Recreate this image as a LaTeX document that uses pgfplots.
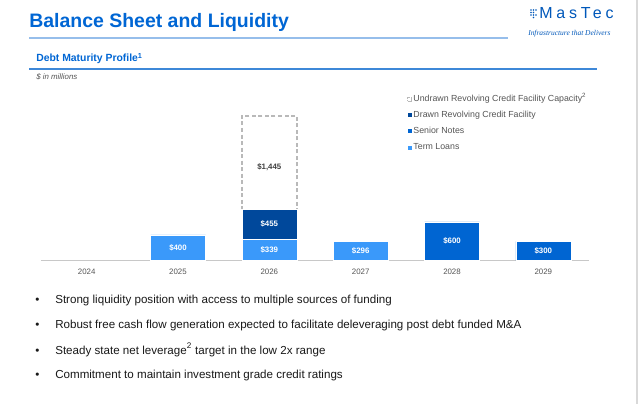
\documentclass[border=0pt]{standalone}
\usepackage{fontspec}
\setmainfont{Liberation Sans}
\newfontfamily\logofont[LetterSpace=24]{Liberation Sans}
\newfontfamily\tagfont{Liberation Serif}
\usepackage{pgfplots}
\pgfplotsset{compat=1.18}
\definecolor{titleblue}{RGB}{0,102,212}
\definecolor{termblue}{RGB}{58,153,250}
\definecolor{seniorblue}{RGB}{0,101,210}
\definecolor{drawnblue}{RGB}{0,72,155}
\definecolor{dashgray}{RGB}{185,185,185}
\definecolor{axisgray}{RGB}{200,200,200}
\definecolor{yeargray}{RGB}{85,85,85}
\definecolor{lightline}{RGB}{150,190,235}
\definecolor{subline}{RGB}{62,136,216}
\definecolor{logoblue}{RGB}{0,88,186}
\definecolor{bodytext}{RGB}{25,25,25}

\pgfplotsset{
  sqlegend/.style={legend image code/.code={\path[##1] (0pt,-1.5pt) rectangle (3pt,1.5pt);}},
  overlay axis/.style={at={(30.75pt,107.475pt)}, anchor=south west,
    scale only axis, width=411pt, height=121.3pt,
    xmin=2023.5, xmax=2029.5, ymin=0, ymax=2500, clip=false}
}
\tikzset{lbl/.style={font=\fontsize{5.9}{7}\selectfont\bfseries, text=white}}

\begin{document}
\begin{tikzpicture}[x=0.75pt,y=0.75pt]
\useasboundingbox (0,0) rectangle (640,404);
\fill[white] (0,0) rectangle (640,404);
\draw[gray!30, line width=1.2pt] (637,0) -- (637,404);

% header
\node[anchor=base west, inner sep=0pt, text=titleblue, font=\fontsize{14.6}{16}\selectfont\bfseries] at (29,376) {Balance Sheet and Liquidity};
\draw[lightline, line width=1.2pt] (29,366) -- (508,366);
\foreach \dx/\dy in {0/0,2.5/0,5/0,0/2.5,2.5/2.5,0/5,2.5/5,5/5,2.5/-2.5}
  \fill[logoblue] (531+\dx,389+\dy) circle (0.8);
\node[anchor=base west, inner sep=0pt, text=logoblue, font=\fontsize{12}{13}\logofont] at (539,385) {MasTec};
\node[anchor=base west, inner sep=0pt, text=logoblue, font=\fontsize{5.6}{6}\tagfont\itshape] at (528,368) {Infrastructure that Delivers};

\node[anchor=base west, inner sep=0pt, text=titleblue, font=\fontsize{7.8}{9}\selectfont\bfseries] at (36,342) {Debt Maturity Profile\textsuperscript{1}};
\draw[subline, line width=1.5pt] (29,335) -- (597,335);
\node[anchor=base west, inner sep=0pt, text=yeargray, font=\fontsize{5.9}{7}\selectfont\itshape] at (36,324) {\$ in millions};

% bullets
\foreach \yy/\txt in {100/{Strong liquidity position with access to multiple sources of funding},
                      75/{Robust free cash flow generation expected to facilitate deleveraging post debt funded M\&A},
                      50/{Steady state net leverage\textsuperscript{2} target in the low 2x range},
                      26/{Commitment to maintain investment grade credit ratings}} {
  \node[anchor=base west, inner sep=0pt, text=bodytext, font=\fontsize{8.7}{10}\selectfont] at (35,\yy) {•};
  \node[anchor=base west, inner sep=0pt, text=bodytext, font=\fontsize{8.7}{10}\selectfont] at (55,\yy) {\txt};
}

% single-series bars and the year axis
\begin{axis}[
    overlay axis,
    ybar, bar width=41.25pt,
    axis x line*=bottom, axis y line=none,
    x axis line style={-, draw=axisgray, line width=0.8pt},
    xtick={2024,2025,2026,2027,2028,2029}, major tick length=0pt,
    /pgf/number format/assume math mode=true,
    xticklabel={\pgfmathprintnumber[1000 sep={}]{\tick}},
    xticklabel style={font=\fontsize{5.9}{7}\selectfont, text=yeargray, yshift=-2.8pt}
]
% Term Loans
\addplot[fill=termblue, draw=white, line width=0.4pt, bar shift=0pt] coordinates {(2025,400) (2027,296)};
% Senior Notes
\addplot[fill=seniorblue, draw=white, line width=0.4pt, bar shift=0pt] coordinates {(2028,600) (2029,300)};
\end{axis}

% 2026 stack and legend
\begin{axis}[
    overlay axis,
    ybar stacked, bar width=41.25pt,
    hide axis,
    legend cell align=left,
    legend style={at={(0.668,1.037)}, anchor=north west, draw=none, fill=none,
      inner sep=0pt, row sep=3.3pt, column sep=0pt,
      font=\fontsize{6.6}{7}\selectfont, text=yeargray,
      nodes={text height=5pt, text depth=1.4pt, inner sep=1.2pt}}
]
\addplot[fill=termblue, draw=white, line width=0.4pt, forget plot] coordinates {(2026,339)};
\addplot[fill=drawnblue, draw=white, line width=0.4pt, forget plot] coordinates {(2026,455)};
\addplot[fill=white, draw=dashgray, line width=1.1pt, dash pattern=on 3pt off 1.9pt, forget plot] coordinates {(2026,1445)};

\addlegendimage{sqlegend, fill=white, draw=dashgray, line width=0.4pt, dash pattern=on 0.8pt off 0.6pt}
\addlegendentry{Undrawn Revolving Credit Facility Capacity\textsuperscript{2}}
\addlegendimage{sqlegend, fill=drawnblue, draw=none}
\addlegendentry{Drawn Revolving Credit Facility}
\addlegendimage{sqlegend, fill=seniorblue, draw=none}
\addlegendentry{Senior Notes}
\addlegendimage{sqlegend, fill=termblue, draw=none}
\addlegendentry{Term Loans}
\end{axis}

% value labels on top of every bar
\begin{axis}[overlay axis, hide axis]
\node[lbl] at (axis cs:2025,200) {\$400};
\node[lbl] at (axis cs:2026,169.5) {\$339};
\node[lbl] at (axis cs:2026,566.5) {\$455};
\node[lbl, text=black!75] at (axis cs:2026,1450) {\$1,445};
\node[lbl] at (axis cs:2027,148) {\$296};
\node[lbl] at (axis cs:2028,300) {\$600};
\node[lbl] at (axis cs:2029,150) {\$300};
\end{axis}
\end{tikzpicture}
\end{document}
